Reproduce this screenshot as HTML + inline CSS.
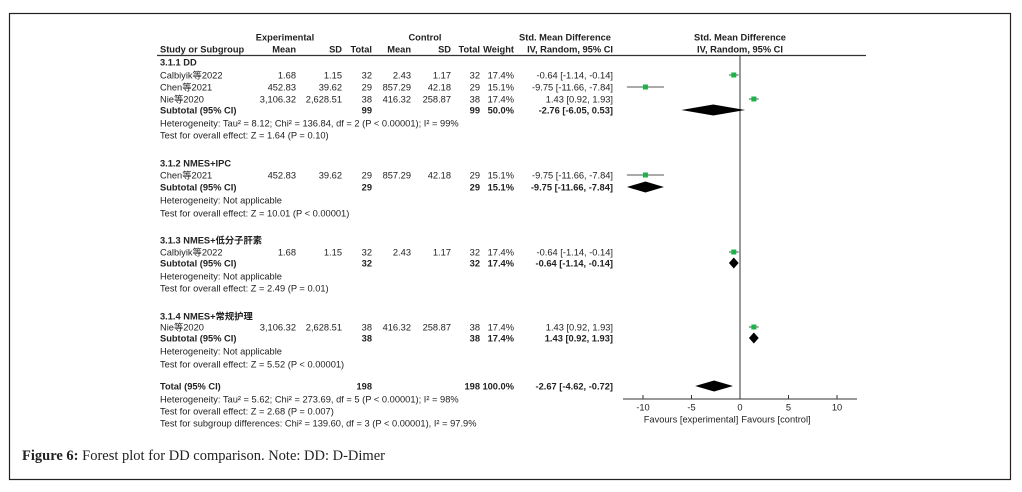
<!DOCTYPE html>
<html><head><meta charset="utf-8"><style>
html,body{margin:0;padding:0;background:#fff;width:1022px;height:492px;overflow:hidden}
svg{display:block}
text{font-family:"Liberation Sans","Noto Sans CJK SC",sans-serif;font-size:9.3px;fill:#222}
.b{font-weight:bold}
</style></head><body>
<svg id="fp" width="1022" height="492" xmlns="http://www.w3.org/2000/svg">
<rect x="9.5" y="13.5" width="1001" height="466" fill="none" stroke="#222" stroke-width="1.2"/>
<g id="g"></g>
<text x="22" y="460" style="font-family:'Liberation Serif',serif;font-size:14.5px;fill:#222"><tspan font-weight="bold">Figure 6:</tspan> Forest plot for DD comparison. Note: DD: D-Dimer</text>
</svg>
<script>
const studyNames=["Calbiyik等2022","Chen等2021","Nie等2020","Chen等2021","Calbiyik等2022","Nie等2020"];
const studyRowY=[75,87,99,175,252,327];
const expMean=["1.68","452.83","3,106.32","452.83","1.68","3,106.32"];
const expSD=["1.15","39.62","2,628.51","39.62","1.15","2,628.51"];
const expN=[32,29,38,29,32,38];
const ctlMean=["2.43","857.29","416.32","857.29","2.43","416.32"];
const ctlSD=["1.17","42.18","258.87","42.18","1.17","258.87"];
const ctlN=[32,29,38,29,32,38];
const weights=["17.4%","15.1%","17.4%","15.1%","17.4%","17.4%"];
const smd=[-0.64,-9.75,1.43,-9.75,-0.64,1.43];
const smdLo=[-1.14,-11.66,0.92,-11.66,-1.14,0.92];
const smdHi=[-0.14,-7.84,1.93,-7.84,-0.14,1.93];
const poolLabels=["Subtotal (95% CI)","Subtotal (95% CI)","Subtotal (95% CI)","Subtotal (95% CI)","Total (95% CI)"];
const poolY=[110,187,263,338,386];
const poolExpN=[99,29,32,38,198];
const poolCtlN=[99,29,32,38,198];
const poolWeight=["50.0%","15.1%","17.4%","17.4%","100.0%"];
const poolEst=[-2.76,-9.75,-0.64,1.43,-2.67];
const poolLo=[-6.05,-11.66,-1.14,0.92,-4.62];
const poolHi=[0.53,-7.84,-0.14,1.93,-0.72];
const axisTicks=[-10,-5,0,5,10];

const NS="http://www.w3.org/2000/svg";
const g=document.getElementById('g');
const X=v=>740+v*9.7;
function t(x,y,s,anchor,cls,name){const e=document.createElementNS(NS,'text');e.setAttribute('x',x);e.setAttribute('y',y+3.3);if(anchor)e.setAttribute('text-anchor',anchor);if(cls)e.setAttribute('class',cls);e.textContent=s;


g.appendChild(e);return e;}
function ln(x1,y1,x2,y2,c,w,name){const e=document.createElementNS(NS,'line');e.setAttribute('x1',x1);e.setAttribute('y1',y1);e.setAttribute('x2',x2);e.setAttribute('y2',y2);e.setAttribute('stroke',c);e.setAttribute('stroke-width',w);


g.appendChild(e);}
const f2=v=>v.toFixed(2);
const ci=(e,l,h)=>f2(e)+" ["+f2(l)+", "+f2(h)+"]";
t(285,37,"Experimental","middle","b","header-experimental");
t(425,37,"Control","middle","b","header-control");
t(565,37,"Std. Mean Difference","middle","b","header-smd");
t(740,37,"Std. Mean Difference","middle","b","header-smd-plot");
t(160,49,"Study or Subgroup",null,"b","header-study");
t(296,49,"Mean","end","b","header-exp-mean");
t(342,49,"SD","end","b","header-exp-sd");
t(372,49,"Total","end","b","header-exp-total");
t(411,49,"Mean","end","b","header-ctl-mean");
t(451,49,"SD","end","b","header-ctl-sd");
t(480,49,"Total","end","b","header-ctl-total");
t(514,49,"Weight","end","b","header-weight");
t(613,49,"IV, Random, 95% CI","end","b","header-ci");
t(740,49,"IV, Random, 95% CI","middle","b","header-ci-plot");
ln(157,55.5,866,55.5,"#333",1.3,"header-rule");
ln(740,55,740,399,"#333",1,"zero-line");
const groupTitles=["3.1.1 DD","3.1.2 NMES+IPC","3.1.3 NMES+低分子肝素","3.1.4 NMES+常规护理"];
const groupY=[62,163,240,316];
groupTitles.forEach((s,i)=>t(160,groupY[i],s,null,"b","subgroup-title"));
const notes=[[123,"Heterogeneity: Tau² = 8.12; Chi² = 136.84, df = 2 (P < 0.00001); I² = 99%"],[135,"Test for overall effect: Z = 1.64 (P = 0.10)"],
[200,"Heterogeneity: Not applicable"],[213,"Test for overall effect: Z = 10.01 (P < 0.00001)"],
[276,"Heterogeneity: Not applicable"],[288,"Test for overall effect: Z = 2.49 (P = 0.01)"],
[351,"Heterogeneity: Not applicable"],[364,"Test for overall effect: Z = 5.52 (P < 0.00001)"],
[399,"Heterogeneity: Tau² = 5.62; Chi² = 273.69, df = 5 (P < 0.00001); I² = 98%"],[411,"Test for overall effect: Z = 2.68 (P = 0.007)"],
[423,"Test for subgroup differences: Chi² = 139.60, df = 3 (P < 0.00001), I² = 97.9%"]];
notes.forEach(n=>t(160,n[0],n[1],null,null,"stat-note"));
studyNames.forEach((s,i)=>{const y=studyRowY[i];
t(160,y,s,null,null,"study-name");
t(296,y,expMean[i],"end",null,"exp-mean");
t(342,y,expSD[i],"end",null,"exp-sd");
t(372,y,expN[i],"end",null,"exp-total");
t(411,y,ctlMean[i],"end",null,"ctl-mean");
t(451,y,ctlSD[i],"end",null,"ctl-sd");
t(480,y,ctlN[i],"end",null,"ctl-total");
t(514,y,weights[i],"end",null,"weight");
t(613,y,ci(smd[i],smdLo[i],smdHi[i]),"end",null,"smd-ci");
ln(X(smdLo[i]),y,X(smdHi[i]),y,"#555",1,"study-ci-line");
const r=document.createElementNS(NS,'rect');r.setAttribute('x',X(smd[i])-2.5);r.setAttribute('y',y-2.5);r.setAttribute('width',5);r.setAttribute('height',5);r.setAttribute('fill','#1db34a');


g.appendChild(r);
});
poolLabels.forEach((s,i)=>{const y=poolY[i];
t(160,y,s,null,"b","pooled-label");
t(372,y,poolExpN[i],"end","b","pooled-exp-total");
t(480,y,poolCtlN[i],"end","b","pooled-ctl-total");
t(514,y,poolWeight[i],"end","b","pooled-weight");
t(613,y,ci(poolEst[i],poolLo[i],poolHi[i]),"end","b","pooled-ci");
const p=document.createElementNS(NS,'polygon');
p.setAttribute('points',`${X(poolLo[i])},${y} ${X(poolEst[i])},${y-5.5} ${X(poolHi[i])},${y} ${X(poolEst[i])},${y+5.5}`);
p.setAttribute('fill','#000');


g.appendChild(p);
});
ln(623,399,857,399,"#333",1,"x-axis");
axisTicks.forEach(v=>{ln(X(v),395,X(v),399,"#333",1,"x-tick");t(X(v),407,String(v),"middle",null,"x-tick-label");});
t(691,419,"Favours [experimental]","middle",null,"favours-experimental");
t(776,419,"Favours [control]","middle",null,"favours-control");
</script>
</body></html>
